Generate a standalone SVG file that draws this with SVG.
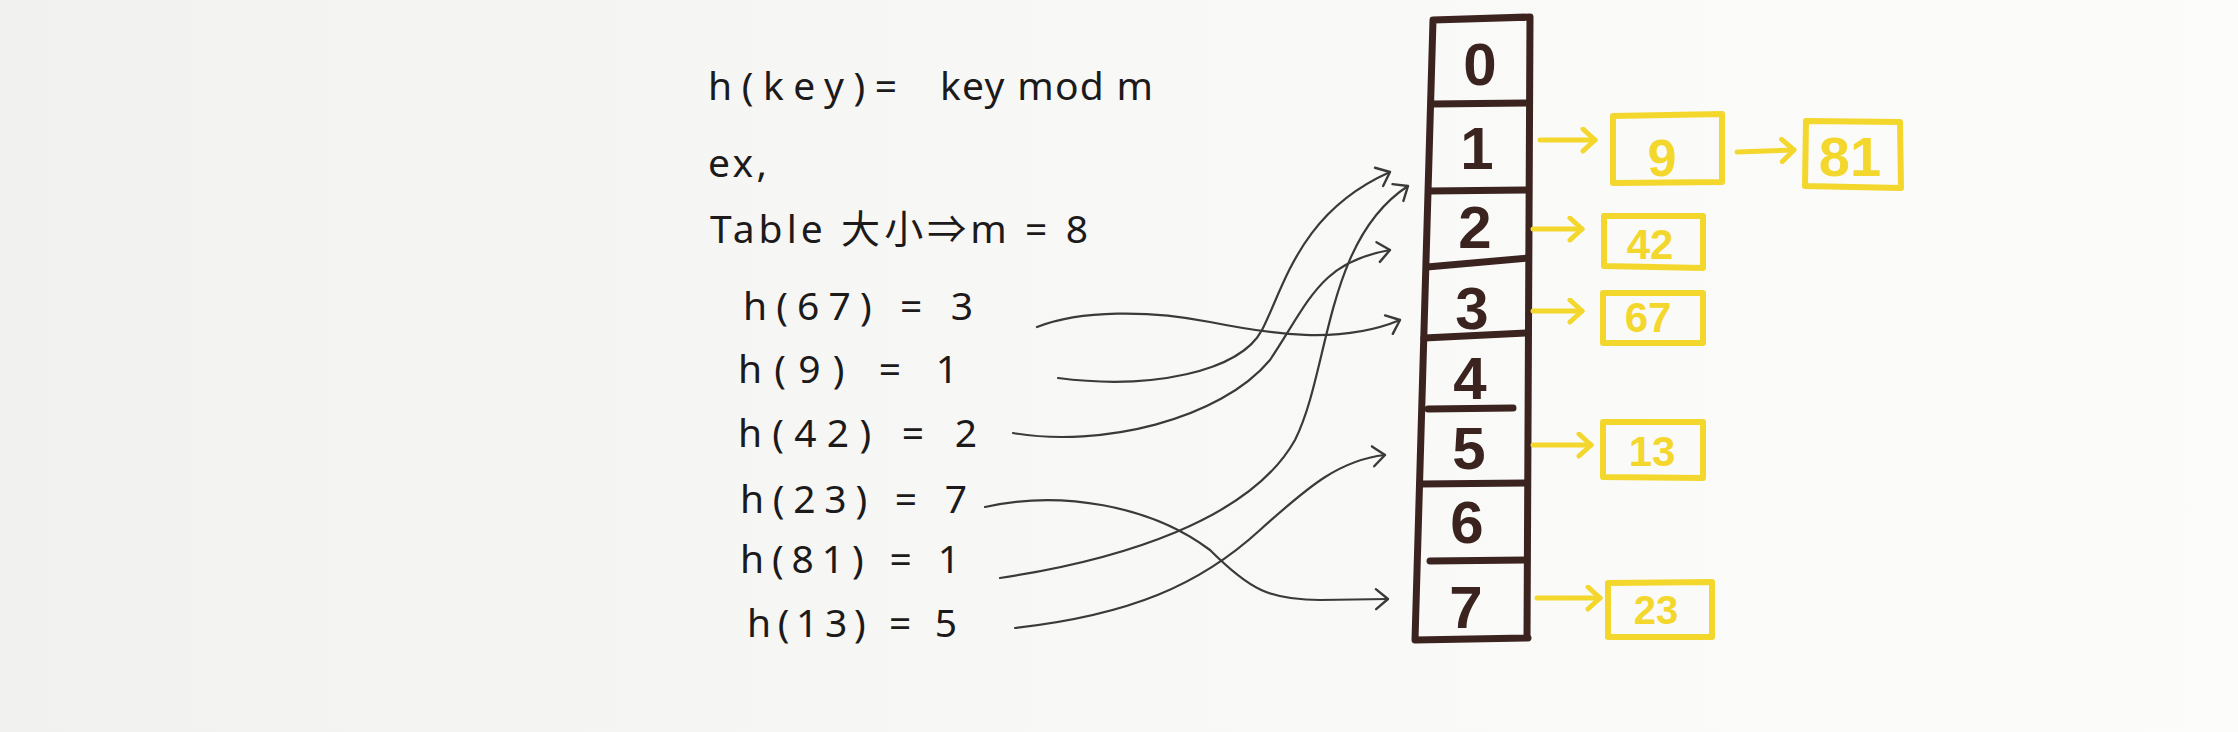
<svg xmlns="http://www.w3.org/2000/svg" width="2238" height="732" viewBox="0 0 2238 732">
  <defs>
    <linearGradient id="paper" x1="0" y1="0" x2="1" y2="0">
      <stop offset="0" stop-color="#f1f1ef"/>
      <stop offset="0.5" stop-color="#f8f8f6"/>
      <stop offset="1" stop-color="#fcfcfb"/>
    </linearGradient>
    <marker id="chev" markerUnits="userSpaceOnUse" markerWidth="30" markerHeight="30" refX="14" refY="12" orient="auto" viewBox="0 0 30 30">
      <path d="M2,2 L14,12 L2,22" fill="none" stroke="#3a3a3a" stroke-width="2.4" stroke-linecap="round" stroke-linejoin="round"/>
    </marker>
    <marker id="ychev" markerUnits="userSpaceOnUse" markerWidth="30" markerHeight="30" refX="15" refY="13" orient="auto" viewBox="0 0 30 30">
      <path d="M3,2 L15,13 L3,24" fill="none" stroke="#f4d72c" stroke-width="5" stroke-linecap="round" stroke-linejoin="round"/>
    </marker>
  </defs>
  <style>
    .txt { font-family: "Noto Sans", "Noto Sans CJK SC", sans-serif; font-size: 39px; fill: #1c1a1a; }
    .cell { fill: none; stroke: #3b2320; stroke-width: 7; stroke-linecap: round; }
    .num { font-family: "Liberation Sans", sans-serif; font-weight: 700; font-size: 60px; fill: #3b2320; text-anchor: middle; }
    .ybox { fill: none; stroke: #f4d72c; stroke-width: 6; stroke-linejoin: round; }
    .ytxt { font-family: "Liberation Sans", sans-serif; font-weight: 700; fill: #f4d72c; text-anchor: middle; }
    .conn { fill: none; stroke: #3a3a3a; stroke-width: 2.2; stroke-linecap: round; }
    .yarrow { fill: none; stroke: #f4d72c; stroke-width: 5; stroke-linecap: round; }
  </style>
  <rect x="0" y="0" width="2238" height="732" fill="url(#paper)"/>

  <g id="formula">
    <text class="txt" x="708" y="100" textLength="189" lengthAdjust="spacing">h(key)=</text>
    <text class="txt" x="940" y="100" textLength="213" lengthAdjust="spacing">key mod m</text>
  </g>
  <g id="example-label">
    <text class="txt" x="708" y="177" textLength="59" lengthAdjust="spacing">ex,</text>
  </g>
  <g id="table-size">
    <text class="txt" x="710" y="243" textLength="378" lengthAdjust="spacing">Table 大小⇒m = 8</text>
  </g>
  <g id="h67"><text class="txt" x="743" y="320" textLength="230" lengthAdjust="spacing">h(67) = 3</text></g>
  <g id="h9"><text class="txt" x="738" y="383" textLength="220" lengthAdjust="spacing">h(9) = 1</text></g>
  <g id="h42"><text class="txt" x="738" y="447" textLength="239" lengthAdjust="spacing">h(42) = 2</text></g>
  <g id="h23"><text class="txt" x="740" y="513" textLength="227" lengthAdjust="spacing">h(23) = 7</text></g>
  <g id="h81"><text class="txt" x="740" y="573" textLength="220" lengthAdjust="spacing">h(81) = 1</text></g>
  <g id="h13"><text class="txt" x="747" y="637" textLength="210" lengthAdjust="spacing">h(13) = 5</text></g>

  <g id="hash-table">
    <path class="cell" d="M1433,20 L1530,17 M1433,20 L1415,640 M1530,17 L1527,638 M1415,640 L1528,638"/>
    <g id="slot0"><text class="num" x="1480" y="85">0</text></g>
    <g id="slot1"><path class="cell" d="M1432,104 L1528,103"/><text class="num" x="1477" y="169">1</text></g>
    <g id="slot2"><path class="cell" d="M1429,191 L1528,190"/><text class="num" x="1475" y="248">2</text></g>
    <g id="slot3"><path class="cell" d="M1427,267 L1528,258"/><text class="num" x="1472" y="329">3</text></g>
    <g id="slot4"><path class="cell" d="M1424,338 L1528,333"/><text class="num" x="1470" y="399">4</text></g>
    <g id="slot5"><path class="cell" d="M1428,409 L1513,408"/><text class="num" x="1469" y="469">5</text></g>
    <g id="slot6"><path class="cell" d="M1420,484 L1527,483"/><text class="num" x="1467" y="543">6</text></g>
    <g id="slot7"><path class="cell" d="M1430,561 L1527,560"/><text class="num" x="1466" y="628">7</text></g>
  </g>

  <g id="node-9"><path class="ybox" d="M1613,116 L1722,114 L1722,182 L1613,183 Z"/><text class="ytxt" x="1662" y="176" font-size="52">9</text></g>
  <g id="node-81"><path class="ybox" d="M1806,121 L1900,122 L1901,188 L1805,186 Z"/><text class="ytxt" x="1850" y="176" font-size="56">81</text></g>
  <g id="node-42"><path class="ybox" d="M1604,216 L1703,216 L1703,268 L1604,266 Z"/><text class="ytxt" x="1650" y="259" font-size="42">42</text></g>
  <g id="node-67"><path class="ybox" d="M1603,293 L1703,293 L1703,343 L1603,343 Z"/><text class="ytxt" x="1648" y="332" font-size="42">67</text></g>
  <g id="node-13"><path class="ybox" d="M1603,422 L1703,422 L1703,478 L1603,477 Z"/><text class="ytxt" x="1652" y="466" font-size="42">13</text></g>
  <g id="node-23"><path class="ybox" d="M1608,583 L1712,582 L1712,637 L1608,637 Z"/><text class="ytxt" x="1656" y="624" font-size="40">23</text></g>

  <g id="connectors">
    <path class="conn" marker-end="url(#chev)" d="M1037,327 C1080,310 1150,310 1210,322 S1340,345 1400,320"/>
    <path class="conn" marker-end="url(#chev)" d="M1058,378 C1150,390 1240,372 1262,330 C1285,285 1300,212 1390,172"/>
    <path class="conn" marker-end="url(#chev)" d="M1013,433 C1100,448 1220,420 1270,360 C1310,300 1320,262 1390,250"/>
    <path class="conn" marker-end="url(#chev)" d="M1000,578 C1120,560 1250,520 1295,440 C1330,370 1325,240 1408,186"/>
    <path class="conn" marker-end="url(#chev)" d="M985,507 C1060,490 1150,505 1210,550 C1250,590 1270,600 1320,600 L1388,599"/>
    <path class="conn" marker-end="url(#chev)" d="M1015,628 C1130,615 1200,585 1260,530 C1310,485 1340,460 1385,455"/>

    <path class="yarrow" marker-end="url(#ychev)" d="M1540,140 L1595,140"/>
    <path class="yarrow" marker-end="url(#ychev)" d="M1737,152 L1794,150"/>
    <path class="yarrow" marker-end="url(#ychev)" d="M1533,229 L1582,229"/>
    <path class="yarrow" marker-end="url(#ychev)" d="M1533,311 L1582,311"/>
    <path class="yarrow" marker-end="url(#ychev)" d="M1533,445 L1591,445"/>
    <path class="yarrow" marker-end="url(#ychev)" d="M1537,598 L1600,598"/>
  </g>
</svg>
